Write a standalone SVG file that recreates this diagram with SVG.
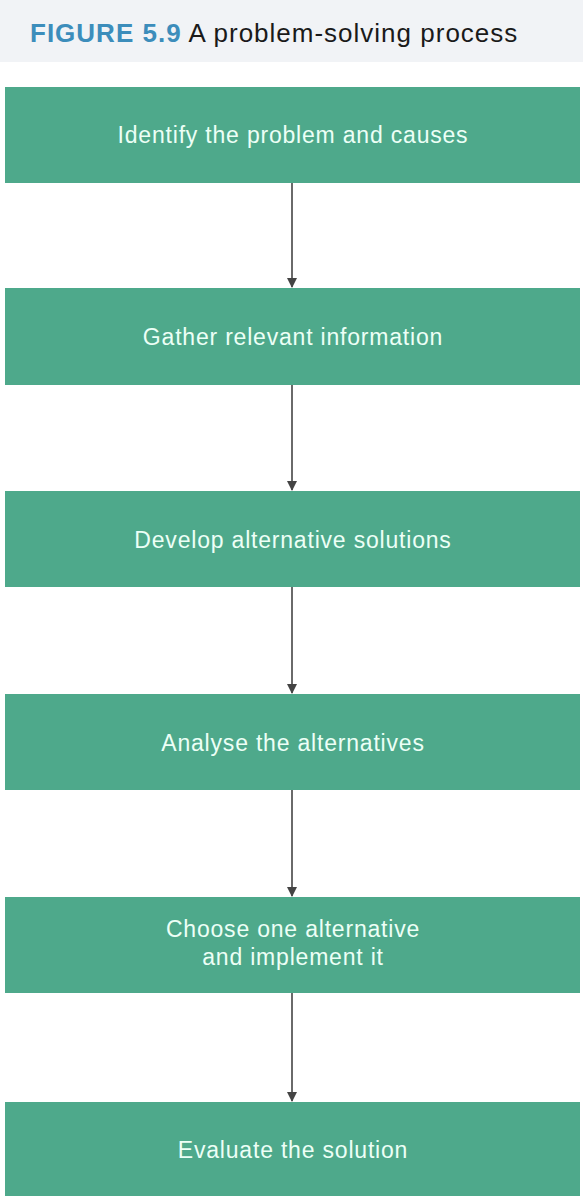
<svg xmlns="http://www.w3.org/2000/svg" width="583" height="1200" viewBox="0 0 583 1200">
<style>
.box{fill:#4ea98b}
.lbl{font-family:"Liberation Sans",Arial,sans-serif;font-size:23px;letter-spacing:0.8px;fill:#ecfff6;text-anchor:middle}
.conn{stroke:#6a6a6a;stroke-width:2;fill:none}
</style>
<defs>
<marker id="ah" markerWidth="10" markerHeight="10" refX="9" refY="5" orient="auto" markerUnits="userSpaceOnUse">
<path d="M0,0 L10,5 L0,10 z" fill="#444"/>
</marker>
</defs>
<rect x="0" y="0" width="583" height="62" fill="#f1f3f6"/>
<text x="30" y="42" font-family="'Liberation Sans',Arial,sans-serif" font-size="26" letter-spacing="1"><tspan font-weight="bold" fill="#3c8dbb">FIGURE 5.9</tspan><tspan fill="#1a1a1a"> A problem-solving process</tspan></text>
<g id="n1"><rect class="box" x="5" y="87" width="575" height="96"/><text class="lbl" x="293" y="143">Identify the problem and causes</text></g>
<g id="n2"><rect class="box" x="5" y="288" width="575" height="97"/><text class="lbl" x="293" y="345">Gather relevant information</text></g>
<g id="n3"><rect class="box" x="5" y="491" width="575" height="96"/><text class="lbl" x="293" y="548">Develop alternative solutions</text></g>
<g id="n4"><rect class="box" x="5" y="694" width="575" height="96"/><text class="lbl" x="293" y="751">Analyse the alternatives</text></g>
<g id="n5"><rect class="box" x="5" y="897" width="575" height="96"/><text class="lbl" x="293" y="937">Choose one alternative</text><text class="lbl" x="293" y="965">and implement it</text></g>
<g id="n6"><rect class="box" x="5" y="1102" width="575" height="94"/><text class="lbl" x="293" y="1158">Evaluate the solution</text></g>
<g id="connectors">
<line class="conn" x1="292" y1="183" x2="292" y2="287" marker-end="url(#ah)"/>
<line class="conn" x1="292" y1="385" x2="292" y2="490" marker-end="url(#ah)"/>
<line class="conn" x1="292" y1="587" x2="292" y2="693" marker-end="url(#ah)"/>
<line class="conn" x1="292" y1="790" x2="292" y2="896" marker-end="url(#ah)"/>
<line class="conn" x1="292" y1="993" x2="292" y2="1101" marker-end="url(#ah)"/>
</g>
</svg>
